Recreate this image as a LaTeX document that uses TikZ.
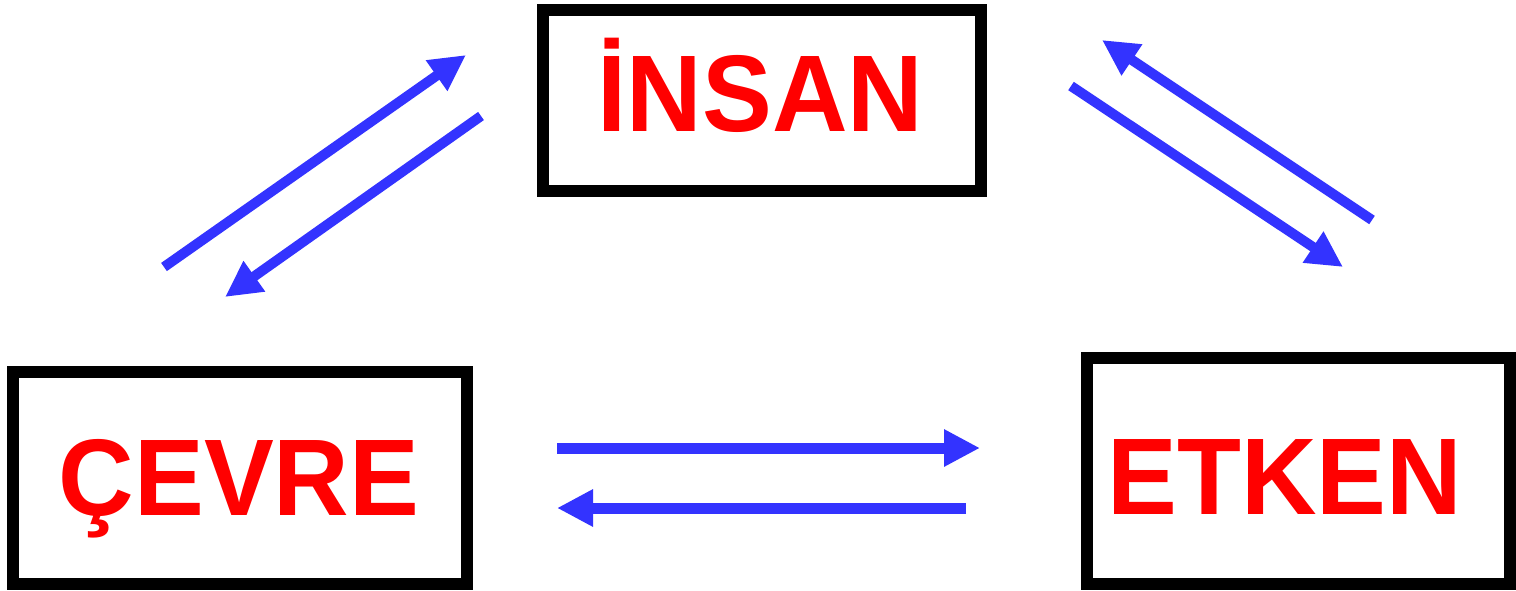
\documentclass[tikz,border=0pt]{standalone}
\usepackage{fontspec}
\setmainfont{Liberation Sans}
\newfontfamily\lblfont[FakeStretch=0.96]{Liberation Sans Bold}
\usetikzlibrary{arrows.meta}
\definecolor{arrowblue}{RGB}{51,51,255}
\definecolor{labelred}{RGB}{255,0,0}
\tikzset{
  box/.style={draw=black, line width=12pt, rectangle, inner sep=0pt},
  lbl/.style={anchor=base, inner sep=0pt, text=labelred, font=\lblfont\fontsize{109}{120}\selectfont},
  flow/.style={draw=arrowblue, line width=10pt, -{Triangle[length=36pt,width=35pt]}}
}
\begin{document}
\begin{tikzpicture}[x=1pt,y=-1pt]
\useasboundingbox (0,0) rectangle (1516,590);
% boxes
\node[box, minimum width=438.5pt, minimum height=181pt] (insanbox) at (761.75,100.5) {};
\node[box, minimum width=454pt, minimum height=212pt] (cevrebox) at (240,478) {};
\node[box, minimum width=423pt, minimum height=226pt] (etkenbox) at (1298.5,471) {};
% labels
\node[lbl] (insan) at (760.5,131) {İNSAN};
\node[lbl] (cevre) at (239,515) {ÇEVRE};
\node[lbl] (etken) at (1285,514) {ETKEN};
% arrow end points
\coordinate (a1s) at (164,267);  \coordinate (a1e) at (466,55);
\coordinate (a2s) at (481,116);  \coordinate (a2e) at (225,297);
\coordinate (a3s) at (1372,220); \coordinate (a3e) at (1102,40);
\coordinate (a4s) at (1071,86);  \coordinate (a4e) at (1343,267);
\coordinate (a5s) at (557,448);  \coordinate (a5e) at (980,448);
\coordinate (a6s) at (966,508);  \coordinate (a6e) at (557,508);
% arrows
\draw[flow] (a1s) -- (a1e);
\draw[flow] (a2s) -- (a2e);
\draw[flow] (a3s) -- (a3e);
\draw[flow] (a4s) -- (a4e);
\draw[flow, line width=11pt] (a5s) -- (a5e);
\draw[flow, line width=11pt] (a6s) -- (a6e);
\end{tikzpicture}
\end{document}
